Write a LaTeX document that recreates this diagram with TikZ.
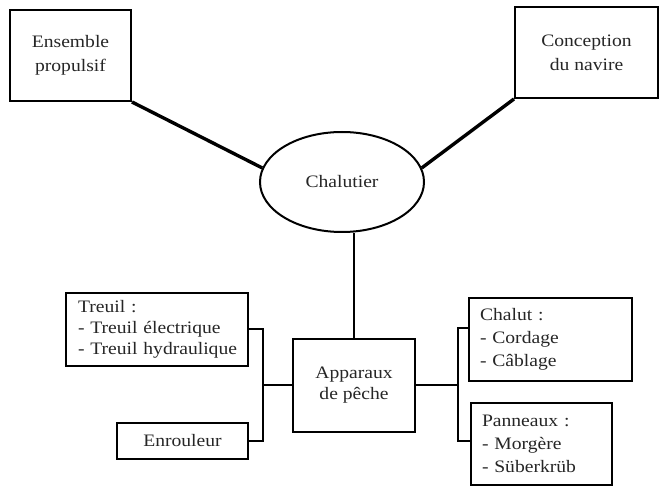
\documentclass[tikz,border=0pt]{standalone}
\usepackage{fontspec}
\setmainfont{Liberation Serif}[FakeStretch=1.12]
\usetikzlibrary{shapes.geometric}
\begin{document}
\begin{tikzpicture}[x=1pt,y=-1pt,
  every node/.style={font=\fontsize{17.5}{22}\selectfont, text=black!85},
  box/.style={draw, line width=2pt, rectangle, inner sep=0pt, align=center},
  lbox/.style={draw, line width=2pt, rectangle, inner ysep=0pt, align=left},
  thickline/.style={line width=3.4pt},
  conn/.style={line width=2pt}]
\useasboundingbox (0,0) rectangle (659,486);
\fill[white] (0,0) rectangle (659,486);
% nodes
\node[box, minimum width=121pt, minimum height=91pt,
      font=\fontsize{17.5}{24}\selectfont] (ens) at (70.5,55.5) {Ensemble\\propulsif};
\node[box, minimum width=143pt, minimum height=91pt,
      font=\fontsize{17.5}{24}\selectfont] (con) at (586.5,52.5) {Conception\\du navire};
\node[draw, ellipse, line width=2pt, inner sep=0pt,
      minimum width=164pt, minimum height=100pt] (ch) at (342,182) {Chalutier};
\node[box, minimum width=122pt, minimum height=93pt,
      font=\fontsize{17.5}{21}\selectfont] (app) at (354,385.5) {Apparaux\\de p\^eche};
\node[lbox, inner xsep=12pt, text width=158pt, minimum height=73pt,
      font=\fontsize{17.5}{21}\selectfont] (tre) at (157,329.5)
      {\mbox{Treuil :}\\\mbox{- Treuil \'electrique}\\\mbox{- Treuil hydraulique}};
\node[box, minimum width=131pt, minimum height=36pt] (enr) at (182.5,441) {Enrouleur};
\node[lbox, inner xsep=11pt, text width=141pt, minimum height=83pt,
      font=\fontsize{17.5}{23}\selectfont] (chl) at (550.5,339.5)
      {\mbox{Chalut :}\\\mbox{- Cordage}\\\mbox{- C\^ablage}};
\node[lbox, inner xsep=11pt, text width=119pt, minimum height=82pt,
      font=\fontsize{17.5}{23}\selectfont] (pan) at (541.5,444)
      {\mbox{Panneaux :}\\\mbox{- Morg\`ere}\\\mbox{- S\"uberkr\"ub}};
% junction coordinates
\coordinate (jl) at (263,385.5);
\coordinate (jr) at (458,385.5);
% connectors
\draw[thickline] (ens.south east) -- (ch.170);
\draw[thickline] (con.south west) -- (ch.10);
\draw[conn] (app.north) -- (app.north |- ch.south);
\draw[conn] (tre.east) -| (jl) |- (enr.east);
\draw[conn] (app.west) -- (jl);
\draw[conn] (app.east) -- (jr);
\draw[conn] ([yshift=11pt]chl.west) -| (jr) |- ([yshift=3pt]pan.west);
\end{tikzpicture}
\end{document}
